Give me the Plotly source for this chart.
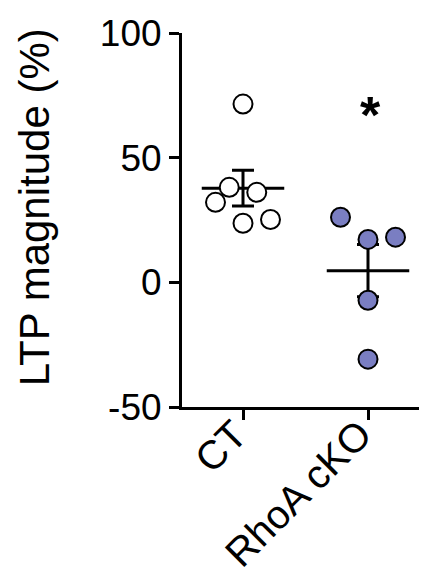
import numpy as np
import plotly.graph_objects as go

groups = ["CT", "RhoA cKO"]
ct_x_jitter = [0.0, -0.11, 0.11, -0.22, 0.0, 0.22]
ct_vals = [71.5, 38.1, 36.1, 32.1, 23.7, 25.2]
ko_x_jitter = [-0.22, 0.0, 0.22, 0.0, 0.0]
ko_vals = [26.1, 17.2, 18.1, -7.2, -30.8]
y_ticks = [-50, 0, 50, 100]
y_ticktext = ["-50", "0", "50", "100"]
star_y = 67

FONT = "Liberation Sans, Arial, Helvetica, sans-serif"
KO_COLOR = "#7A7EC2"

fig = go.Figure()

series = [(ct_vals, ct_x_jitter, "white"), (ko_vals, ko_x_jitter, KO_COLOR)]
# mean + SEM
for i, (vals, jit, col) in enumerate(series):
    v = np.array(vals)
    m = v.mean()
    sem = v.std(ddof=1) / np.sqrt(len(v))
    fig.add_trace(go.Scatter(x=[i - 0.33, i + 0.33], y=[m, m], mode="lines",
                             line=dict(color="black", width=3), showlegend=False, hoverinfo="skip"))
    fig.add_trace(go.Scatter(x=[i], y=[m], mode="markers", marker=dict(size=1, color="black", opacity=0),
                             error_y=dict(type="data", array=[sem], visible=True, color="black",
                                          thickness=3, width=11),
                             showlegend=False, hoverinfo="skip"))
# points
for i, (vals, jit, col) in enumerate(series):
    fig.add_trace(go.Scatter(x=[i + j for j in jit], y=vals, mode="markers",
                             marker=dict(size=19, color=col, line=dict(color="black", width=2)),
                             showlegend=False))

fig.add_annotation(x=1, y=star_y, xref="x", yref="y", text="<b>*</b>", showarrow=False,
                   font=dict(family=FONT, size=52, color="black"), yanchor="middle", xshift=2)

fig.add_annotation(x=-0.602, y=0.533, xref="paper", yref="paper", text="LTP magnitude (%)",
                   textangle=-90, showarrow=False, xanchor="center", yanchor="middle",
                   font=dict(family=FONT, size=42, color="black"))

# rotated category labels
for i, g in enumerate(groups):
    fig.add_annotation(x=i, y=0, xref="x", yref="paper", text=g, textangle=-45, showarrow=False,
                       xanchor="right", yanchor="top", xshift=15, yshift=-2,
                       font=dict(family=FONT, size=40, color="black"))

# the page body has an 8px default margin, so the figure is 8px smaller
fig.update_layout(
    width=419, height=570,
    margin=dict(l=174, r=0, t=25, b=171, autoexpand=False),
    paper_bgcolor="white", plot_bgcolor="white",
    font=dict(family=FONT, size=37, color="black"),
)
fig.update_xaxes(range=[-0.488, 1.472], tickvals=[0, 1], showticklabels=False,
                 showline=True, linecolor="black", linewidth=3, ticks="outside", ticklen=10,
                 tickwidth=3, tickcolor="black", showgrid=False, zeroline=False, automargin=False)
fig.update_yaxes(range=[-50, 100], tickvals=y_ticks, ticktext=y_ticktext, showline=True,
                 linecolor="black", linewidth=3, ticks="outside", ticklen=10, tickwidth=3,
                 tickcolor="black", showgrid=False, zeroline=False, automargin=False,
                 ticklabelstandoff=0,
                 tickfont=dict(family=FONT, size=37, color="black"))

fig.write_html("out.html")
